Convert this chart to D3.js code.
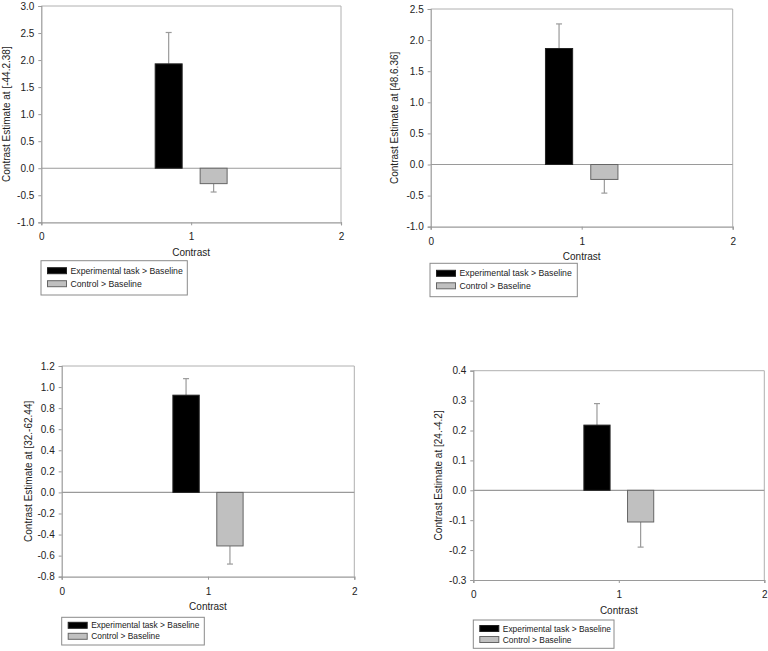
<!DOCTYPE html>
<html>
<head>
<meta charset="utf-8">
<script src="https://cdn.jsdelivr.net/npm/d3@7"></script>
<style>
  html, body { margin: 0; padding: 0; background: #fff; }
  svg { display: block; font-family: "Liberation Sans", Arial, sans-serif; }
</style>
</head>
<body>
<svg id="chart" width="768" height="651"></svg>
<script>
// ---------- data ----------
const seriesNames = ["Experimental task > Baseline", "Control > Baseline"];
const yAxisTitles = [
  "Contrast Estimate at [-44.2.38]",
  "Contrast Estimate at [48.6.36]",
  "Contrast Estimate at [32.-62.44]",
  "Contrast Estimate at [24.-4.2]"
];
const xAxisTitle = "Contrast";
const experimentalValues = [1.93, 1.865, 0.923, 0.218];
const experimentalErrors = [0.58, 0.395, 0.157, 0.072];
const controlValues = [-0.285, -0.24, -0.508, -0.106];
const controlErrors = [0.155, 0.22, 0.172, 0.084];
const yDomains = [[-1, 3], [-1, 2.5], [-0.8, 1.2], [-0.3, 0.4]];
const yTickValues = [
  [-1, -0.5, 0, 0.5, 1, 1.5, 2, 2.5, 3],
  [-1, -0.5, 0, 0.5, 1, 1.5, 2, 2.5],
  [-0.8, -0.6, -0.4, -0.2, 0, 0.2, 0.4, 0.6, 0.8, 1, 1.2],
  [-0.3, -0.2, -0.1, 0, 0.1, 0.2, 0.3, 0.4]
];
const xTickValues = [0, 1, 2];
const xDomain = [0, 2];
const barCenters = [0.85, 1.15];   // x position (data units) of each series' bar
const barWidth = 0.18;             // data units

// ---------- layout ----------
const panels = [
  { left: 41.3, right: 341, top: 6, bottom: 222.3, ylabX: 6,
    legend: { x: 41, y: 260.7, w: 146.3, h: 34.3, r1: 10, r2: 23, fs: 8.7 } },
  { left: 430.7, right: 732.7, top: 9, bottom: 226.7, ylabX: 394,
    legend: { x: 430, y: 263.3, w: 147.3, h: 33.4, r1: 10, r2: 22.5, fs: 8.7 } },
  { left: 61.7, right: 354.3, top: 366, bottom: 576.7, ylabX: 28.3,
    legend: { x: 61.7, y: 617.3, w: 142.6, h: 27.7, r1: 8, r2: 19, fs: 8.4 } },
  { left: 473.3, right: 764.3, top: 370.7, bottom: 580, ylabX: 438.3,
    legend: { x: 473.3, y: 620, w: 140.7, h: 28.3, r1: 8.5, r2: 19.5, fs: 8.4 } }
];

const fills = ["#000000", "#c0c0c0"];
const strokes = ["#222222", "#666666"];
const axisColor = "#9a9a9a";
const textColor = "#222";

const svg = d3.select("#chart");
const fmt = v => d3.format(".1f")(v).replace("\u2212", "-");

panels.forEach((p, i) => {
  const g = svg.append("g");
  const x = d3.scaleLinear().domain(xDomain).range([p.left, p.right]);
  const y = d3.scaleLinear().domain(yDomains[i]).range([p.bottom, p.top]);

  // plot frame (top & right)
  g.append("path")
    .attr("d", `M${p.left},${p.top}H${p.right}V${p.bottom}`)
    .attr("fill", "none").attr("stroke", "#b0b0b0").attr("stroke-width", 1);

  // y axis
  const ya = g.append("g").attr("transform", `translate(${p.left},0)`)
    .call(d3.axisLeft(y).tickValues(yTickValues[i]).tickFormat(fmt).tickSize(3).tickPadding(4));
  ya.select(".domain").attr("stroke", axisColor).attr("stroke-width", 1.2);
  ya.selectAll(".tick line").attr("stroke", axisColor);
  ya.selectAll(".tick text").attr("fill", textColor).attr("font-size", 10)
    .attr("font-family", "Liberation Sans, Arial, sans-serif");

  // x axis
  const xa = g.append("g").attr("transform", `translate(0,${p.bottom})`)
    .call(d3.axisBottom(x).tickValues(xTickValues).tickFormat(d3.format("d")).tickSize(3).tickPadding(8));
  xa.select(".domain").attr("stroke", axisColor).attr("stroke-width", 1.2);
  xa.selectAll(".tick line").attr("stroke", axisColor);
  xa.selectAll(".tick text").attr("fill", textColor).attr("font-size", 10)
    .attr("font-family", "Liberation Sans, Arial, sans-serif");

  // zero line
  g.append("line")
    .attr("x1", p.left).attr("x2", p.right)
    .attr("y1", y(0)).attr("y2", y(0))
    .attr("stroke", axisColor).attr("stroke-width", 1.2);

  const vals = [experimentalValues[i], controlValues[i]];
  const errs = [experimentalErrors[i], controlErrors[i]];

  // error bars (drawn beneath bars)
  vals.forEach((v, s) => {
    const cx = x(barCenters[s]);
    const tip = v >= 0 ? v + errs[s] : v - errs[s];
    g.append("line").attr("x1", cx).attr("x2", cx)
      .attr("y1", y(v)).attr("y2", y(tip))
      .attr("stroke", axisColor).attr("stroke-width", 1.2);
    g.append("line").attr("x1", cx - 3).attr("x2", cx + 3)
      .attr("y1", y(tip)).attr("y2", y(tip))
      .attr("stroke", axisColor).attr("stroke-width", 1.2);
  });

  // bars
  vals.forEach((v, s) => {
    const x0 = x(barCenters[s] - barWidth / 2);
    const x1 = x(barCenters[s] + barWidth / 2);
    g.append("rect")
      .attr("x", x0).attr("width", x1 - x0)
      .attr("y", Math.min(y(v), y(0)))
      .attr("height", Math.abs(y(v) - y(0)))
      .attr("fill", fills[s]).attr("stroke", strokes[s]).attr("stroke-width", 1);
  });

  // y axis title
  g.append("text")
    .attr("transform", `translate(${p.ylabX},${(p.top + p.bottom) / 2}) rotate(-90)`)
    .attr("text-anchor", "middle").attr("dominant-baseline", "central")
    .attr("font-size", 10).attr("fill", textColor)
    .text(yAxisTitles[i]);

  // x axis title
  g.append("text")
    .attr("x", x(1)).attr("y", p.bottom + 30)
    .attr("text-anchor", "middle").attr("dominant-baseline", "central")
    .attr("font-size", 10).attr("fill", textColor)
    .text(xAxisTitle);

  // legend
  const L = p.legend;
  const lg = g.append("g");
  lg.append("rect").attr("x", L.x).attr("y", L.y).attr("width", L.w).attr("height", L.h)
    .attr("fill", "#fff").attr("stroke", "#8a8a8a").attr("stroke-width", 1);
  [L.r1, L.r2].forEach((ry, s) => {
    lg.append("rect").attr("x", L.x + 6.5).attr("y", L.y + ry - 3).attr("width", 19).attr("height", 6)
      .attr("fill", fills[s]).attr("stroke", strokes[s]).attr("stroke-width", 1);
    lg.append("text").attr("x", L.x + 29.5).attr("y", L.y + ry)
      .attr("dominant-baseline", "central").attr("font-size", L.fs).attr("fill", textColor)
      .text(seriesNames[s]);
  });
});
</script>
</body>
</html>
